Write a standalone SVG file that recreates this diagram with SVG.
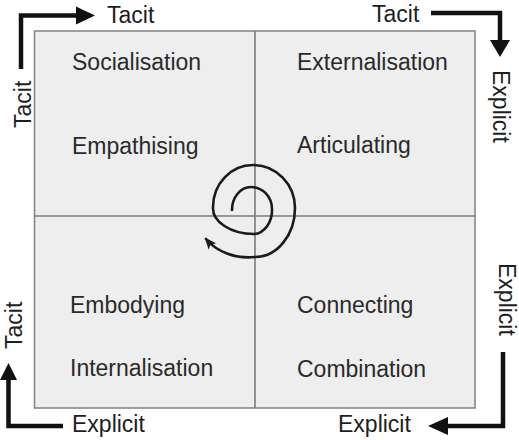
<svg xmlns="http://www.w3.org/2000/svg" width="519" height="440" viewBox="0 0 519 440">
  <style>
    .lbl { font-family: "Liberation Sans", Arial, sans-serif; font-size: 23px; fill: #2a2a2a; }
    .ax { font-family: "Liberation Sans", Arial, sans-serif; font-size: 23px; fill: #1e1e1e; }
    .arrow { fill: none; stroke: #111; stroke-width: 4.5; }
    .head { fill: #111; }
    .grid { stroke: #7a7a7a; stroke-width: 1.6; fill: none; }
    .spiral { fill: none; stroke: #1a1a1a; stroke-width: 2.6; stroke-linecap: round; }
  </style>
  <defs>
    <marker id="sp" viewBox="0 0 12 10" refX="10" refY="5" markerWidth="12" markerHeight="10" markerUnits="userSpaceOnUse" orient="auto">
      <path d="M0,0 L12,5 L0,10 L3,5 Z" fill="#1a1a1a"/>
    </marker>
  </defs>
  <rect width="519" height="440" fill="#ffffff"/>

  <g id="matrix">
    <rect x="34.5" y="31" width="440.5" height="377" fill="#eeeeee" stroke="#888888" stroke-width="1.6"/>
    <line class="grid" x1="255" y1="31" x2="255" y2="408"/>
    <line class="grid" x1="34.5" y1="216" x2="475" y2="216"/>
  </g>

  <g id="socialisation">
    <text class="lbl" x="72" y="70">Socialisation</text>
    <text class="lbl" x="72" y="154">Empathising</text>
  </g>
  <g id="externalisation">
    <text class="lbl" x="297" y="70">Externalisation</text>
    <text class="lbl" x="297" y="153">Articulating</text>
  </g>
  <g id="internalisation">
    <text class="lbl" x="70" y="313">Embodying</text>
    <text class="lbl" x="70" y="376">Internalisation</text>
  </g>
  <g id="combination">
    <text class="lbl" x="297" y="313">Connecting</text>
    <text class="lbl" x="297" y="377">Combination</text>
  </g>

  <g id="axis-labels">
    <text class="ax" x="107" y="23">Tacit</text>
    <text class="ax" x="372" y="22">Tacit</text>
    <text class="ax" transform="translate(31,128) rotate(-90)">Tacit</text>
    <text class="ax" transform="translate(22,349) rotate(-90)">Tacit</text>
    <text class="ax" transform="translate(493,70) rotate(90)">Explicit</text>
    <text class="ax" transform="translate(499,263) rotate(90)">Explicit</text>
    <text class="ax" x="72" y="432">Explicit</text>
    <text class="ax" x="338" y="432">Explicit</text>
  </g>

  <g id="connectors">
    <polyline class="arrow" points="21,69 21,15.5 78,15.5"/>
    <path class="head" d="M76,6.5 L95,15.5 L76,24.5 Z"/>
    <polyline class="arrow" points="431,13 500,13 500,42"/>
    <path class="head" d="M490,40 L500,57 L510,40 Z"/>
    <polyline class="arrow" points="8.5,378 8.5,426 63,426"/>
    <path class="head" d="M0,380 L8.5,363 L17,380 Z"/>
    <polyline class="arrow" points="503,352 503,426 446,426"/>
    <path class="head" d="M448,417 L428,426 L448,435 Z"/>
    <path class="spiral" marker-end="url(#sp)" d="M232,210 A19,23 0 0 1 251,187 A21,22 0 0 1 272,209 A19,24 0 0 1 254,234 A41,26 0 0 1 213,207 A40,42 0 0 1 253,165 A42,43 0 0 1 295,208 A40,49 0 0 1 255,257 A52,44 0 0 1 206,239"/>
  </g>
</svg>
